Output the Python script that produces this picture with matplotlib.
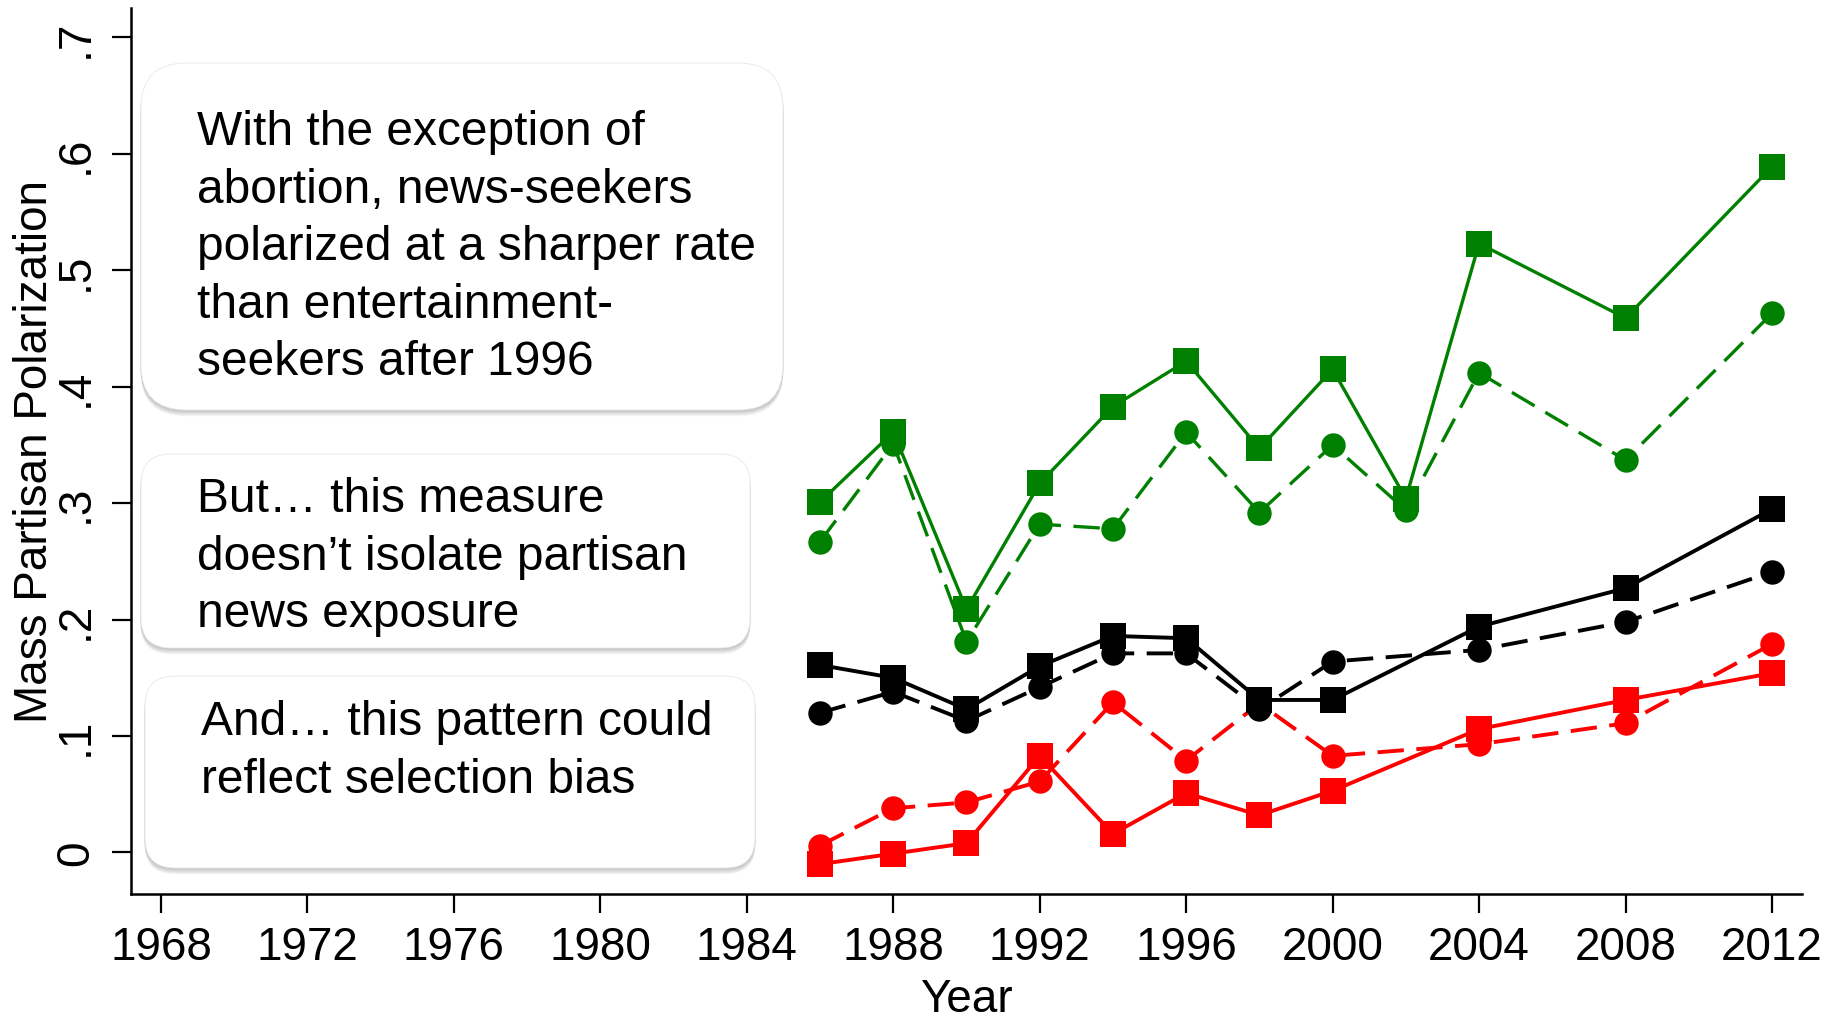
import matplotlib
matplotlib.use('Agg')
import matplotlib.pyplot as plt
from matplotlib.patches import FancyBboxPatch
from matplotlib.transforms import IdentityTransform

plt.rcParams['font.family'] = ['Liberation Sans', 'DejaVu Sans']
plt.rcParams['lines.scale_dashes'] = False

# survey years (green series also has 2002)
years_green = [1986, 1988, 1990, 1992, 1994, 1996, 1998, 2000, 2002, 2004, 2008, 2012]
years = [1986, 1988, 1990, 1992, 1994, 1996, 1998, 2000, 2004, 2008, 2012]

green_sq = [0.301, 0.361, 0.209, 0.317, 0.383, 0.422, 0.347, 0.415, 0.304, 0.523, 0.459, 0.589]
green_ci = [0.267, 0.351, 0.181, 0.282, 0.278, 0.361, 0.292, 0.350, 0.294, 0.412, 0.337, 0.463]
black_sq = [0.161, 0.150, 0.123, 0.160, 0.186, 0.184, 0.131, 0.131, 0.194, 0.227, 0.295]
black_ci = [0.120, 0.138, 0.113, 0.142, 0.171, 0.171, 0.123, 0.164, 0.174, 0.198, 0.241]
red_sq = [-0.010, -0.001, 0.008, 0.083, 0.016, 0.051, 0.032, 0.053, 0.106, 0.131, 0.154]
red_ci = [0.006, 0.038, 0.043, 0.061, 0.129, 0.079, 0.128, 0.083, 0.093, 0.111, 0.179]

xticks = list(range(1968, 2013, 4))
yticks = [0, 0.1, 0.2, 0.3, 0.4, 0.5, 0.6, 0.7]
ytick_labels = ['0', '.1', '.2', '.3', '.4', '.5', '.6', '.7']

notes = [
    "With the exception of\nabortion, news-seekers\npolarized at a sharper rate\nthan entertainment-\nseekers after 1996",
    "But\u2026 this measure\ndoesn\u2019t isolate partisan\nnews exposure",
    "And\u2026 this pattern could\nreflect selection bias",
]

W, H = 1829, 1020
fig = plt.figure(figsize=(W / 100, H / 100), dpi=100)
ax = fig.add_axes([0.0714, 0.12284, 0.91384, 0.86833])

GREEN = '#008000'
RED = '#ff0000'
MS = 18.5
DASH = (19, 9)

ax.plot(years, red_sq, color=RED, lw=2.8, marker='s', ms=MS, mew=0)
ax.plot(years, red_ci, color=RED, lw=2.8, marker='o', ms=MS * 0.95, mew=0, dashes=DASH)
ax.plot(years, black_sq, color='black', lw=2.8, marker='s', ms=MS, mew=0)
ax.plot(years, black_ci, color='black', lw=2.8, marker='o', ms=MS * 0.95, mew=0, dashes=DASH)
ax.plot(years_green, green_sq, color=GREEN, lw=2.4, marker='s', ms=MS, mew=0)
ax.plot(years_green, green_ci, color=GREEN, lw=2.4, marker='o', ms=MS * 0.95, mew=0, dashes=DASH)

ax.set_xlim(1967.17, 2012.82)
ax.set_ylim(-0.0354, 0.7253)
ax.set_xticks(xticks)
ax.set_xticklabels([str(x) for x in xticks])
ax.set_yticks(yticks)
ax.set_yticklabels(ytick_labels)

for side in ['top', 'right']:
    ax.spines[side].set_visible(False)
for side in ['left', 'bottom']:
    ax.spines[side].set_linewidth(1.8)

ax.tick_params(axis='both', direction='out', length=13.5, width=1.6, labelsize=33)
ax.tick_params(axis='x', pad=9)
ax.tick_params(axis='y', pad=10)
for lab in ax.get_yticklabels():
    lab.set_rotation(90)
    lab.set_va('center')

ax.set_xlabel('Year', fontsize=33)
ax.set_ylabel('Mass Partisan Polarization', fontsize=33)
ax.xaxis.set_label_coords(0.5, -0.094)
ax.yaxis.set_label_coords(-0.044, 0.5)

# annotation boxes, in pixel coordinates measured from the top
boxes = [(141, 64, 783, 411, 45), (141, 455, 750, 649, 30), (145, 677, 755, 869, 30)]
text_pos = [(197, 110), (197, 477), (201, 700)]
ident = IdentityTransform()

for (x0, y0, x1, y1, r), (tx, ty), note in zip(boxes, text_pos, notes):
    for k in range(1, 8):
        sh = FancyBboxPatch((x0 - 0.5, H - y1 - k * 0.9), x1 - x0 + 1, y1 - y0,
                            boxstyle=f"round,pad=0,rounding_size={r}",
                            transform=ident, facecolor='black', edgecolor='none',
                            alpha=0.035)
        fig.add_artist(sh)
    box = FancyBboxPatch((x0, H - y1), x1 - x0, y1 - y0,
                         boxstyle=f"round,pad=0,rounding_size={r}",
                         transform=ident, facecolor='white', edgecolor='#e8e8e8', lw=0.6)
    fig.add_artist(box)
    fig.text(tx, H - ty, note, transform=ident, fontsize=34.5, va='top', ha='left',
             linespacing=1.36)

fig.savefig('out.png', dpi=100)
